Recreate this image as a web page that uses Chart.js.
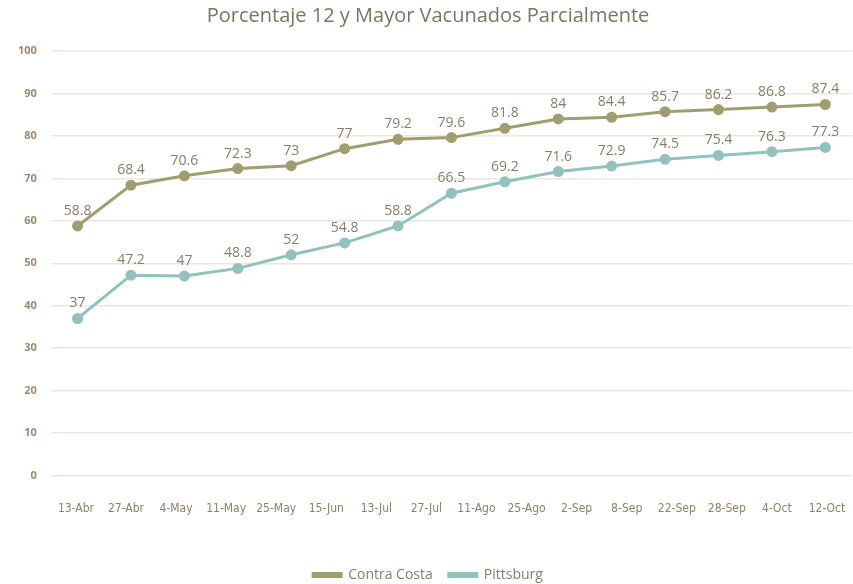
<!DOCTYPE html>
<html>
<head>
    <title>Porcentaje 12 y Mayor Vacunados Parcialmente</title>
    <script src="https://cdn.jsdelivr.net/npm/chart.js"></script>
    <style>
    html, body { margin: 0; padding: 0; background: #ffffff; }
    #wrap { width: 853px; height: 584px; }
    </style>
</head>
<body>
    <div id="wrap"><canvas id="vacChart" width="853" height="584"></canvas></div>
    <script>
    // one entry per measured point
    const pointDates = ['13-Abr', '27-Abr', '4-May', '11-May', '25-May', '15-Jun', '13-Jul', '27-Jul',
        '11-Ago', '25-Ago', '2-Sep', '8-Sep', '22-Sep', '28-Sep', '12-Oct'];
    // the axis under the chart shows 16 labels
    const tickLabels = ['13-Abr', '27-Abr', '4-May', '11-May', '25-May', '15-Jun', '13-Jul', '27-Jul',
        '11-Ago', '25-Ago', '2-Sep', '8-Sep', '22-Sep', '28-Sep', '4-Oct', '12-Oct'];
    const contraCosta = [58.8, 68.4, 70.6, 72.3, 73, 77, 79.2, 79.6, 81.8, 84, 84.4, 85.7, 86.2, 86.8, 87.4];
    const pittsburg = [37, 47.2, 47, 48.8, 52, 54.8, 58.8, 66.5, 69.2, 71.6, 72.9, 74.5, 75.4, 76.3, 77.3];

    const olive = '#a29d71';
    const teal = '#91c2be';
    const labelColor = '#857e69';

    // value labels above each point
    const valueLabels = {
        id: 'valueLabels',
        afterDatasetsDraw(chart) {
            const ctx = chart.ctx;
            ctx.save();
            ctx.font = '14px "Open Sans", sans-serif';
            ctx.fillStyle = labelColor;
            ctx.textAlign = 'center';
            ctx.textBaseline = 'bottom';
            chart.data.datasets.forEach((ds, i) => {
                chart.getDatasetMeta(i).data.forEach((pt, j) => {
                    ctx.fillText(String(ds.data[j]), pt.x, pt.y - 8);
                });
            });
            ctx.restore();
        }
    };

    new Chart(document.getElementById('vacChart').getContext('2d'), {
        type: 'line',
        data: {
            labels: pointDates,
            datasets: [{
                label: 'Contra Costa',
                data: contraCosta,
                borderColor: olive,
                backgroundColor: olive,
                borderWidth: 3,
                pointRadius: 4,
                pointBackgroundColor: olive,
                pointBorderColor: olive,
                tension: 0
            }, {
                label: 'Pittsburg',
                data: pittsburg,
                borderColor: teal,
                backgroundColor: teal,
                borderWidth: 3,
                pointRadius: 4,
                pointBackgroundColor: teal,
                pointBorderColor: teal,
                tension: 0
            }]
        },
        options: {
            responsive: false,
            animation: false,
            layout: { autoPadding: false, padding: { left: 4, right: 1, top: 0, bottom: -8 } },
            scales: {
                x: {
                    display: false,
                    offset: true
                },
                x2: {
                    type: 'category',
                    labels: tickLabels,
                    position: 'bottom',
                    offset: true,
                    grid: { display: false },
                    border: { display: false },
                    ticks: {
                        color: '#8a8268',
                        font: { family: '"Liberation Sans Narrow", "DejaVu Sans Condensed", sans-serif', size: 12 },
                        padding: 18,
                        maxRotation: 0,
                        autoSkip: false
                    },
                    afterFit(scale) {
                        scale.height += 18;
                        scale.paddingLeft = 0;
                        scale.paddingRight = 0;
                    }
                },
                y: {
                    min: 0,
                    max: 100,
                    ticks: {
                        stepSize: 10,
                        color: '#9c8a6c',
                        font: { family: '"Open Sans", sans-serif', size: 11, weight: 'bold' },
                        padding: 14
                    },
                    grid: { color: '#ebe7df', lineWidth: 1.5, drawTicks: false },
                    border: { display: false }
                }
            },
            plugins: {
                title: {
                    display: true,
                    text: 'Porcentaje 12 y Mayor Vacunados Parcialmente',
                    color: '#7a7460',
                    font: { family: '"Open Sans", sans-serif', size: 20, weight: 'normal' },
                    padding: { top: 4, bottom: 23 }
                },
                legend: {
                    position: 'bottom',
                    labels: {
                        color: '#857e69',
                        font: { family: '"Open Sans", sans-serif', size: 14 },
                        boxWidth: 28,
                        boxHeight: 3,
                        padding: 16
                    }
                },
                tooltip: { enabled: false }
            }
        },
        plugins: [valueLabels]
    });
    </script>
</body>
</html>
